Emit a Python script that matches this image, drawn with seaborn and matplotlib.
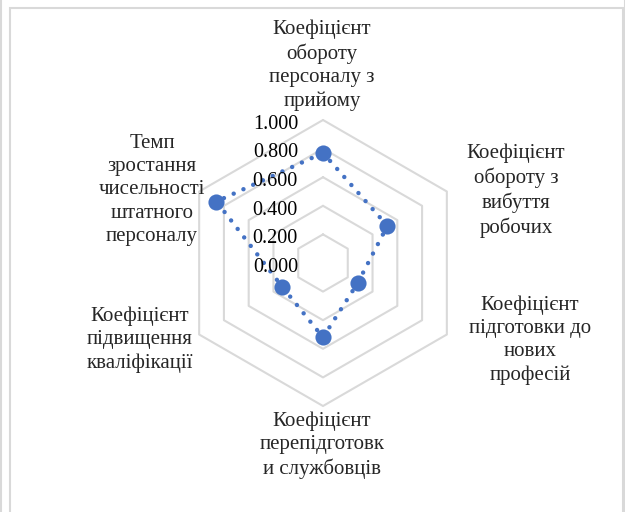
import numpy as np
import matplotlib
matplotlib.use("Agg")
import matplotlib.pyplot as plt
from matplotlib.patches import Rectangle
import seaborn as sns

# axis labels, clockwise from the top
categories = [
    "Коефіцієнт\nобороту\nперсоналу з\nприйому",
    "Коефіцієнт\nобороту з\nвибуття\nробочих",
    "Коефіцієнт\nпідготовки до\nнових\nпрофесій",
    "Коефіцієнт\nперепідготовк\nи службовців",
    "Коефіцієнт\nпідвищення\nкваліфікації",
    "Темп\nзростання\nчисельності\nштатного\nперсоналу",
]
values = [0.77, 0.52, 0.28, 0.52, 0.33, 0.86]
ring_levels = [0.2, 0.4, 0.6, 0.8, 1.0]
tick_values = [0.0, 0.2, 0.4, 0.6, 0.8, 1.0]

sns.set_style("white")
plt.rcParams["font.family"] = ["Liberation Serif", "DejaVu Serif"]

BLUE = "#4472C4"
GRID = "#D9D9D9"

W, H = 625, 512
scale = 143.0          # pixels per 1.0
cx, cy = 323, 263      # centre in pixels (from top)

fig = plt.figure(figsize=(W / 100, H / 100), dpi=100)
ax = fig.add_axes([0, 0, 1, 1])
ax.set_xlim(-cx / scale, (W - cx) / scale)
ax.set_ylim(-(H - cy) / scale, cy / scale)
ax.axis("off")

n = len(categories)
angles = np.arange(n) * 2 * np.pi / n


def to_xy(r, a):
    return r * np.sin(a), r * np.cos(a)


# hexagonal grid rings
for lv in ring_levels:
    a = np.append(angles, angles[0])
    gx, gy = to_xy(lv, a)
    ax.plot(gx, gy, color=GRID, lw=1.5, zorder=1)

# tick labels along the top axis
for tv in tick_values:
    ax.text(-0.175, tv - 0.03, f"{tv:.3f}", ha="right", va="center",
            fontsize=14.5, color="black", zorder=4)

# data series
a = np.append(angles, angles[0])
r = np.append(values, values[0])
px, py = to_xy(r, a)
ax.plot(px, py, color=BLUE, lw=3.2, linestyle=(0, (0.01, 2.4)),
        dash_capstyle="round", zorder=2)
sx, sy = to_xy(np.array(values), angles)
sns.scatterplot(x=sx, y=sy, ax=ax, color=BLUE, s=135, edgecolor=BLUE,
                linewidth=0, zorder=3, legend=False)

# category labels (pixel centres)
label_pos = [(322, 65), (516, 191), (530, 340),
             (322, 445), (140, 340), (152, 190)]
for lab, (lx, ly) in zip(categories, label_pos):
    ax.text((lx - cx) / scale, (cy - ly) / scale, lab, ha="center", va="center",
            fontsize=15, linespacing=1.3, zorder=4)

# chart frame like the spreadsheet chart area
fig.patches.append(Rectangle((10 / W, -0.1), (623 - 10) / W, 1.1 - 8 / H,
                             transform=fig.transFigure, fill=False,
                             edgecolor=GRID, lw=1.5))
fig.patches.append(Rectangle((0.5 / W, -0.1), (624.5) / W, 1.2,
                             transform=fig.transFigure, fill=False,
                             edgecolor=GRID, lw=1.5))
# title cut off at the top edge
fig.text(0.51, 1 - 0.5 / H, "обникн", ha="center", va="baseline",
         fontsize=15)

fig.savefig("out.png", dpi=100)
